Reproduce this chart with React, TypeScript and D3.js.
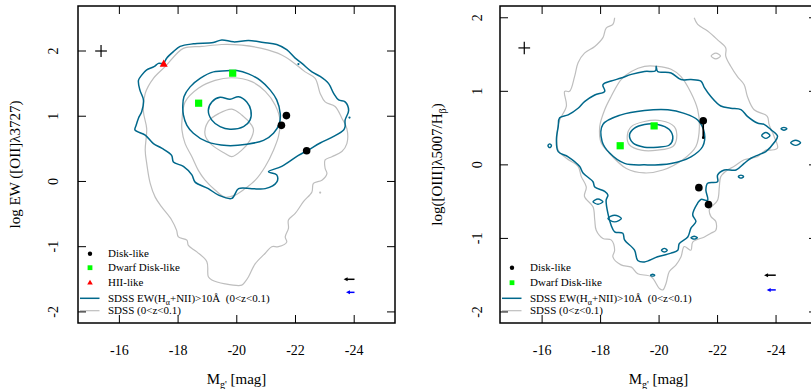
import React from "react";
import * as d3 from "d3";

type P = [number, number];

const xTicks = [-16, -18, -20, -22, -24];
const yTicks = [-2, -1, 0, 1, 2];

// ---------- Left panel data (M_g', log EW[OII]) ----------
const leftDisk: P[] = [[-21.69, 1.01], [-21.52, 0.86], [-22.38, 0.47]];
const leftDwarf: P[] = [[-19.86, 1.66], [-18.70, 1.20]];
const leftHII: P[] = [[-17.51, 1.80]];
const leftErrCross = { x: -15.375, y: 2.0, dx: 0.2, dy: 0.092 };

const leftTealOuter: P[] = [
  [-16.53, 0.79], [-16.57, 0.86], [-16.65, 0.97], [-16.76, 1.07], [-16.82, 1.25], [-16.70, 1.40],
  [-16.65, 1.55], [-16.76, 1.63], [-16.93, 1.71], [-17.18, 1.76], [-17.33, 1.81], [-17.50, 1.81],
  [-17.61, 1.89], [-17.84, 1.99], [-18.07, 2.07], [-18.52, 2.11], [-19.20, 2.13], [-19.49, 2.17],
  [-19.89, 2.14], [-20.40, 2.16], [-20.91, 2.13], [-21.36, 2.10], [-21.70, 2.02], [-21.99, 1.89],
  [-22.22, 1.81], [-22.56, 1.68], [-22.84, 1.61], [-23.13, 1.50], [-23.30, 1.35], [-23.47, 1.25],
  [-23.69, 1.22], [-23.81, 1.09], [-23.69, 0.94], [-23.69, 0.84], [-23.64, 0.79], [-23.30, 0.69],
  [-22.84, 0.59], [-22.39, 0.47], [-22.10, 0.40], [-21.53, 0.23], [-21.08, 0.15], [-21.36, 0.10],
  [-21.36, -0.01], [-20.97, -0.11], [-20.51, -0.11], [-20.06, -0.11], [-19.83, -0.26], [-19.38, -0.21],
  [-19.03, -0.11], [-18.58, -0.01], [-18.47, 0.10], [-18.18, 0.23], [-17.84, 0.30], [-17.78, 0.40],
  [-17.44, 0.51], [-17.16, 0.58], [-16.88, 0.71],
];
const leftTealMid: P[] = [
  [-19.77, 1.70], [-19.20, 1.68], [-18.75, 1.58], [-18.41, 1.45], [-18.20, 1.30], [-18.16, 1.15],
  [-18.18, 1.02], [-18.30, 0.86], [-18.52, 0.74], [-18.98, 0.61], [-19.66, 0.55], [-20.34, 0.57],
  [-20.91, 0.63], [-21.25, 0.74], [-21.45, 0.89], [-21.48, 1.04], [-21.36, 1.25], [-21.14, 1.40],
  [-20.80, 1.55], [-20.40, 1.65], [-20.00, 1.70],
];
const leftTealInner: P[] = [
  [-19.03, 1.09], [-19.15, 1.22], [-19.43, 1.29], [-19.77, 1.26], [-20.06, 1.30], [-20.34, 1.22],
  [-20.48, 1.09], [-20.45, 0.94], [-20.23, 0.84], [-19.77, 0.80], [-19.43, 0.84], [-19.15, 0.94],
];
const leftGrayOuter: P[] = [
  [-17.56, 1.76], [-18.18, 2.04], [-18.81, 2.07], [-19.49, 2.10], [-20.17, 2.09], [-20.85, 2.04],
  [-21.53, 1.94], [-21.88, 1.84], [-22.33, 1.68], [-22.67, 1.58], [-22.84, 1.35], [-23.01, 1.22],
  [-23.35, 1.15], [-23.58, 0.97], [-23.75, 0.81], [-23.75, 0.58], [-23.58, 0.46], [-23.24, 0.38],
  [-23.01, 0.33], [-23.01, 0.20], [-23.07, 0.12], [-22.90, 0.02], [-22.61, -0.03], [-22.56, -0.16],
  [-22.27, -0.31], [-21.99, -0.49], [-21.76, -0.59], [-21.76, -0.72], [-21.65, -0.85], [-21.70, -0.93],
  [-21.42, -1.00], [-21.19, -1.00], [-20.97, -1.10], [-20.63, -1.26], [-20.40, -1.46], [-20.28, -1.54],
  [-20.17, -1.59], [-19.60, -1.57], [-19.15, -1.51], [-19.03, -1.46], [-18.98, -1.23], [-18.64, -1.08],
  [-18.35, -0.98], [-18.30, -0.90], [-18.01, -0.85], [-17.95, -0.75], [-17.78, -0.59], [-17.44, -0.39],
  [-17.22, -0.24], [-17.05, -0.03], [-16.93, 0.28], [-16.88, 0.48], [-16.93, 0.81], [-16.82, 1.07],
  [-16.88, 1.35], [-17.16, 1.58],
];
const leftGrayMid: P[] = [
  [-19.83, 1.59], [-19.26, 1.55], [-18.69, 1.43], [-18.24, 1.22], [-18.13, 0.92], [-18.13, 0.79],
  [-18.24, 0.58], [-18.47, 0.38], [-18.69, 0.17], [-18.92, 0.02], [-19.26, -0.13], [-19.60, -0.24],
  [-19.94, -0.21], [-20.28, -0.11], [-20.63, 0.02], [-20.97, 0.23], [-21.25, 0.48], [-21.42, 0.69],
  [-21.48, 0.92], [-21.31, 1.17], [-20.97, 1.38], [-20.51, 1.53],
];
const leftGrayInner: P[] = [
  [-19.83, 1.11], [-19.38, 1.04], [-19.03, 0.92], [-18.92, 0.71], [-19.15, 0.56], [-19.60, 0.43],
  [-19.83, 0.38], [-20.17, 0.48], [-20.45, 0.63], [-20.57, 0.79], [-20.51, 0.86], [-20.17, 1.02],
];
const leftTealSpecks: P[] = [[-22.10, 1.80], [-23.84, 0.98]];
const leftGraySpecks: P[] = [[-22.84, -0.17]];
const leftArrows = [
  { from: -24.01, to: -23.64, y: -1.5, color: "#000000" },
  { from: -24.01, to: -23.72, y: -1.7, color: "#0000FF" },
];

// ---------- Right panel data (M_g', log [OIII]/Hbeta) ----------
const rightDisk: P[] = [[-21.51, 0.60], [-21.36, -0.31], [-21.69, -0.54]];
const rightDwarf: P[] = [[-19.83, 0.53], [-18.67, 0.26]];
const rightDiskErr = { x: -21.51, y0: 0.60, y1: 0.37 };
const rightErrCross = { x: -15.39, y: 1.59, dx: 0.2, dy: 0.085 };

const rightTealOuter: P[] = [
  [-19.90, 1.34], [-19.95, 1.27], [-20.41, 1.25], [-20.75, 1.16], [-21.09, 1.16], [-21.43, 1.14],
  [-21.55, 1.05], [-21.77, 0.93], [-22.11, 0.80], [-22.45, 0.77], [-22.80, 0.75], [-23.02, 0.66],
  [-23.36, 0.57], [-23.59, 0.55], [-23.82, 0.48], [-24.05, 0.39], [-23.93, 0.30], [-23.65, 0.18],
  [-23.42, 0.14], [-23.14, 0.09], [-22.91, 0.02], [-22.63, -0.07], [-22.23, -0.07], [-22.00, -0.14],
  [-22.00, -0.23], [-21.66, -0.25], [-21.60, -0.34], [-21.66, -0.48], [-21.43, -0.47], [-21.32, -0.52],
  [-21.15, -0.68], [-21.26, -0.77], [-21.09, -0.86], [-20.98, -0.98], [-20.69, -1.07], [-20.64, -1.16],
  [-20.41, -1.20], [-19.95, -1.25], [-19.50, -1.32], [-19.27, -1.30], [-19.16, -1.16], [-18.82, -1.02],
  [-18.76, -0.93], [-18.48, -0.91], [-18.36, -0.82], [-18.25, -0.66], [-18.19, -0.48], [-18.25, -0.41],
  [-18.14, -0.36], [-17.80, -0.30], [-17.74, -0.23], [-17.40, -0.11], [-17.28, -0.02], [-16.89, 0.11],
  [-16.55, 0.18], [-16.49, 0.34], [-16.55, 0.52], [-16.60, 0.64], [-16.89, 0.68], [-17.23, 0.77],
  [-17.45, 0.86], [-17.80, 0.95], [-18.14, 1.00], [-18.08, 1.09], [-18.36, 1.14], [-18.70, 1.18],
  [-19.05, 1.23], [-19.50, 1.27], [-19.88, 1.28],
];
const rightTealMid: P[] = [
  [-18.08, 0.55], [-18.70, 0.68], [-19.50, 0.74], [-20.30, 0.75], [-20.86, 0.70], [-21.32, 0.61],
  [-21.55, 0.43], [-21.49, 0.25], [-21.09, 0.11], [-20.41, 0.02], [-19.50, 0.00], [-18.82, 0.02],
  [-18.31, 0.16], [-18.05, 0.32],
];
const rightTealInner: P[] = [
  [-18.99, 0.41], [-19.16, 0.50], [-19.50, 0.55], [-19.95, 0.55], [-20.35, 0.48], [-20.47, 0.36],
  [-20.35, 0.27], [-19.95, 0.24], [-19.50, 0.24], [-19.10, 0.30],
];
const rightGrayInner: P[] = [
  [-18.91, 0.39], [-19.05, 0.52], [-19.50, 0.59], [-20.07, 0.60], [-20.52, 0.52], [-20.60, 0.36],
  [-20.47, 0.25], [-19.95, 0.20], [-19.39, 0.20], [-18.99, 0.27],
];
const rightGrayMid: P[] = [
  [-19.50, 1.34], [-19.05, 1.27], [-18.70, 1.16], [-18.36, 0.93], [-18.14, 0.75], [-17.97, 0.52],
  [-18.02, 0.30], [-18.25, 0.18], [-18.88, -0.05], [-19.50, -0.11], [-20.13, -0.07], [-20.81, 0.07],
  [-21.26, 0.25], [-21.38, 0.52], [-21.32, 0.75], [-21.09, 0.98], [-20.75, 1.20], [-20.41, 1.30],
  [-19.95, 1.34],
];
const rightGrayOuter: P[] = [
  [-18.48, 2.00], [-18.42, 1.91], [-18.19, 1.86], [-18.08, 1.73], [-17.80, 1.61], [-17.45, 1.52],
  [-17.23, 1.39], [-17.11, 1.20], [-16.94, 1.00], [-16.77, 1.00], [-16.83, 0.80], [-16.60, 0.61],
  [-16.51, 0.43], [-16.55, 0.20], [-16.83, 0.09], [-17.23, -0.02], [-17.34, -0.16], [-17.51, -0.30],
  [-17.45, -0.43], [-17.74, -0.57], [-17.80, -0.75], [-17.85, -0.89], [-18.08, -1.00], [-18.36, -1.02],
  [-18.48, -1.16], [-18.42, -1.25], [-18.70, -1.36], [-19.05, -1.39], [-19.27, -1.48], [-19.73, -1.52],
  [-20.01, -1.68], [-20.13, -1.70], [-20.24, -1.61], [-20.35, -1.45], [-20.58, -1.36], [-20.75, -1.25],
  [-20.86, -1.11], [-21.09, -1.16], [-21.15, -1.05], [-21.55, -0.98], [-21.77, -0.93], [-21.94, -0.89],
  [-21.94, -0.77], [-21.77, -0.70], [-21.72, -0.61], [-22.00, -0.48], [-22.06, -0.30], [-22.11, -0.16],
  [-22.34, -0.07], [-22.57, -0.02], [-22.91, 0.07], [-23.36, 0.11], [-23.65, 0.20], [-23.82, 0.20],
  [-24.05, 0.23], [-23.93, 0.39], [-23.76, 0.55], [-23.70, 0.66], [-23.25, 0.75], [-23.02, 0.93],
  [-22.91, 1.09], [-22.68, 1.20], [-22.45, 1.34], [-22.28, 1.48], [-22.28, 1.59], [-22.00, 1.70],
  [-21.66, 1.82], [-21.32, 1.91], [-21.20, 2.00],
];
// small closed islands: [centre Mg, centre y, half-width (mag), half-height]
const rightTealIslands: [number, number, number, number][] = [
  [-23.65, 0.40, 0.14, 0.04], [-24.67, 0.30, 0.17, 0.035], [-24.27, 0.49, 0.10, 0.02],
  [-16.26, 0.26, 0.06, 0.025], [-18.48, -0.73, 0.23, 0.045], [-17.91, -0.50, 0.17, 0.035],
  [-21.20, -0.99, 0.11, 0.02], [-20.18, -1.16, 0.10, 0.025], [-19.78, -1.50, 0.07, 0.012],
  [-22.80, -0.16, 0.09, 0.02],
];
const rightGrayIslands: [number, number, number, number][] = [[-21.94, 1.48, 0.16, 0.04]];
const rightArrows = [
  { from: -23.99, to: -23.59, y: -1.5, color: "#000000" },
  { from: -23.99, to: -23.68, y: -1.7, color: "#0000FF" },
];

const TEAL = "#00688B";
const GRAY = "#BEBEBE";
const FONT = "'Liberation Serif', 'Times New Roman', serif";
const TOP = 6;
const BOTTOM = 323;

type Contour = { pts: P[]; color: string; closed: boolean; w: number };
type Cfg = {
  id: string;
  left: number;
  right: number;
  xDomain: [number, number];
  yDomain: [number, number];
  contours: Contour[];
  islands: { data: [number, number, number, number][]; color: string; w: number }[];
  specks: { pts: P[]; color: string }[];
  disk: P[];
  dwarf: P[];
  hii: P[];
  cross: { x: number; y: number; dx: number; dy: number };
  err?: { x: number; y0: number; y1: number };
  arrows: { from: number; to: number; y: number; color: string }[];
  yLabelOff: number;
  yTitle: React.ReactNode;
  legendRows: { kind: string; label: React.ReactNode; y: number }[];
};

const tealLabel = (
  <>
    SDSS EW(H<tspan dy={3} fontSize={8}>α</tspan>
    <tspan dy={-3}>{"+NII)>10Å\u00A0\u00A0(0<z<0.1)"}</tspan>
  </>
);
const grayLabel = "SDSS (0<z<0.1)";

function Panel({ c }: { c: Cfg }) {
  const x = d3.scaleLinear().domain(c.xDomain).range([c.left, c.right]);
  const y = d3.scaleLinear().domain(c.yDomain).range([BOTTOM, TOP]);
  const closed = d3.line<P>().x((d) => x(d[0])).y((d) => y(d[1])).curve(d3.curveCatmullRomClosed.alpha(0.5));
  const open = d3.line<P>().x((d) => x(d[0])).y((d) => y(d[1])).curve(d3.curveCatmullRom.alpha(0.5));
  const cx = (c.left + c.right) / 2;
  const cy = (TOP + BOTTOM) / 2;
  const symX = c.left + 12;
  const txtX = c.left + 30;

  return (
    <g>
      <defs>
        <clipPath id={`clip-${c.id}`}>
          <rect x={c.left} y={TOP} width={c.right - c.left} height={BOTTOM - TOP} />
        </clipPath>
      </defs>
      <g clipPath={`url(#clip-${c.id})`}>
        {c.contours.map((k, i) => (
          <path key={i} d={(k.closed ? closed : open)(k.pts) || ""} fill="none" stroke={k.color} strokeWidth={k.w} strokeLinejoin="round" />
        ))}
        {c.islands.map((g, gi) =>
          g.data.map((d, i) => {
            const pts: P[] = [
              [d[0] + d[2], d[1]], [d[0], d[1] + d[3]], [d[0] - d[2], d[1]], [d[0], d[1] - d[3]],
            ];
            return <path key={`${gi}-${i}`} d={closed(pts) || ""} fill="none" stroke={g.color} strokeWidth={g.w} />;
          })
        )}
        {c.specks.map((g, gi) =>
          g.pts.map((d, i) => <circle key={`${gi}-${i}`} cx={x(d[0])} cy={y(d[1])} r={1.1} fill={g.color} />)
        )}
        {c.err && (
          <g>
            <line x1={x(c.err.x)} x2={x(c.err.x)} y1={y(c.err.y0)} y2={y(c.err.y1)} stroke="#000" strokeWidth={1.6} />
            <circle cx={x(c.err.x)} cy={y(c.err.y1)} r={1.3} fill="#000" />
          </g>
        )}
        {c.disk.map((d, i) => <circle key={i} cx={x(d[0])} cy={y(d[1])} r={3.8} fill="#000" />)}
        {c.dwarf.map((d, i) => <rect key={i} x={x(d[0]) - 3.6} y={y(d[1]) - 3.6} width={7.2} height={7.2} fill="#00FF00" />)}
        {c.hii.map((d, i) => {
          const px = x(d[0]);
          const py = y(d[1]);
          return <path key={i} d={`M${px},${py - 4.6}L${px + 4},${py + 2.6}L${px - 4},${py + 2.6}Z`} fill="#FF0000" />;
        })}
        <g stroke="#000" strokeWidth={1.2}>
          <line x1={x(c.cross.x - c.cross.dx)} x2={x(c.cross.x + c.cross.dx)} y1={y(c.cross.y)} y2={y(c.cross.y)} />
          <line x1={x(c.cross.x)} x2={x(c.cross.x)} y1={y(c.cross.y - c.cross.dy)} y2={y(c.cross.y + c.cross.dy)} />
        </g>
        {c.arrows.map((a, i) => {
          const hx = x(a.to);
          const py = y(a.y);
          return (
            <g key={i}>
              <line x1={x(a.from)} x2={hx + 2} y1={py} y2={py} stroke={a.color} strokeWidth={1.5} />
              <path d={`M${hx},${py}L${hx + 4},${py - 2}L${hx + 4},${py + 2}Z`} fill={a.color} />
            </g>
          );
        })}
      </g>

      {/* legend */}
      <g fontFamily={FONT} fontSize={11} fill="#000">
        {c.legendRows.map((r, i) => {
          let sym: React.ReactNode = null;
          if (r.kind === "disk") sym = <circle cx={symX} cy={r.y} r={2.2} fill="#000" />;
          else if (r.kind === "dwarf") sym = <rect x={symX - 2.4} y={r.y - 2.4} width={4.8} height={4.8} fill="#00FF00" />;
          else if (r.kind === "hii")
            sym = <path d={`M${symX},${r.y - 3}L${symX + 2.8},${r.y + 1.8}L${symX - 2.8},${r.y + 1.8}Z`} fill="#FF0000" />;
          else
            sym = (
              <line x1={c.left + 2} x2={c.left + 21.5} y1={r.y} y2={r.y} stroke={r.kind === "teal" ? TEAL : GRAY} strokeWidth={r.kind === "teal" ? 1.5 : 1.2} />
            );
          return (
            <g key={i}>
              {sym}
              <text x={txtX} y={r.y + 3.6}>{r.label}</text>
            </g>
          );
        })}
      </g>

      {/* frame and ticks */}
      <rect x={c.left} y={TOP} width={c.right - c.left} height={BOTTOM - TOP} fill="none" stroke="#000" strokeWidth={1.5} />
      <g stroke="#000" strokeWidth={1}>
        {xTicks.map((t) => (
          <g key={t}>
            <line x1={x(t)} x2={x(t)} y1={BOTTOM} y2={BOTTOM - 8} />
            <line x1={x(t)} x2={x(t)} y1={TOP} y2={TOP + 8} />
          </g>
        ))}
        {yTicks.map((t) => (
          <g key={t}>
            <line x1={c.left} x2={c.left + 8} y1={y(t)} y2={y(t)} />
            <line x1={c.right} x2={c.right - 8} y1={y(t)} y2={y(t)} />
          </g>
        ))}
      </g>
      <g fontFamily={FONT} fontSize={14} fill="#000" textAnchor="middle">
        {xTicks.map((t) => (
          <text key={t} x={x(t)} y={355}>{String(t)}</text>
        ))}
        {yTicks.map((t) => (
          <text key={t} transform={`translate(${c.left - c.yLabelOff},${y(t)}) rotate(-90)`}>{t}</text>
        ))}
      </g>
      <g fontFamily={FONT} fontSize={15} fill="#000" textAnchor="middle">
        <text x={cx} y={384}>
          M<tspan dy={4} fontSize={10}>g'</tspan>
          <tspan dy={-4}> [mag]</tspan>
        </text>
        <text transform={`translate(${c.left - 58},${cy}) rotate(-90)`}>{c.yTitle}</text>
      </g>
    </g>
  );
}

const leftCfg: Cfg = {
  id: "l",
  left: 78,
  right: 395,
  xDomain: [-14.59, -25.39],
  yDomain: [-2.17, 2.69],
  contours: [
    { pts: leftGrayOuter, color: GRAY, closed: true, w: 1.2 },
    { pts: leftGrayMid, color: GRAY, closed: true, w: 1.2 },
    { pts: leftGrayInner, color: GRAY, closed: true, w: 1.2 },
    { pts: leftTealOuter, color: TEAL, closed: true, w: 1.5 },
    { pts: leftTealMid, color: TEAL, closed: true, w: 1.5 },
    { pts: leftTealInner, color: TEAL, closed: true, w: 1.5 },
  ],
  islands: [],
  specks: [
    { pts: leftTealSpecks, color: TEAL },
    { pts: leftGraySpecks, color: GRAY },
  ],
  disk: leftDisk,
  dwarf: leftDwarf,
  hii: leftHII,
  cross: leftErrCross,
  arrows: leftArrows,
  yLabelOff: 20,
  yTitle: "log EW ([OII]λ3727)",
  legendRows: [
    { kind: "disk", label: "Disk-like", y: 253.7 },
    { kind: "dwarf", label: "Dwarf Disk-like", y: 267.7 },
    { kind: "hii", label: "HII-like", y: 282.7 },
    { kind: "teal", label: tealLabel, y: 298.3 },
    { kind: "gray", label: grayLabel, y: 310.7 },
  ],
};

const rightCfg: Cfg = {
  id: "r",
  left: 500,
  right: 817,
  xDomain: [-14.56, -25.4],
  yDomain: [-2.15, 2.16],
  contours: [
    { pts: rightGrayOuter, color: GRAY, closed: false, w: 1.2 },
    { pts: rightGrayMid, color: GRAY, closed: true, w: 1.2 },
    { pts: rightGrayInner, color: GRAY, closed: true, w: 1.2 },
    { pts: rightTealOuter, color: TEAL, closed: true, w: 1.5 },
    { pts: rightTealMid, color: TEAL, closed: true, w: 1.5 },
    { pts: rightTealInner, color: TEAL, closed: true, w: 1.5 },
  ],
  islands: [
    { data: rightGrayIslands, color: GRAY, w: 1.2 },
    { data: rightTealIslands, color: TEAL, w: 1.4 },
  ],
  specks: [],
  disk: rightDisk,
  dwarf: rightDwarf,
  hii: [],
  cross: rightErrCross,
  err: rightDiskErr,
  arrows: rightArrows,
  yLabelOff: 18,
  yTitle: (
    <>
      log([OIII]λ5007/H<tspan dy={4} fontSize={10}>β</tspan>
      <tspan dy={-4}>)</tspan>
    </>
  ),
  legendRows: [
    { kind: "disk", label: "Disk-like", y: 267.7 },
    { kind: "dwarf", label: "Dwarf Disk-like", y: 282.7 },
    { kind: "teal", label: tealLabel, y: 298.3 },
    { kind: "gray", label: grayLabel, y: 310.7 },
  ],
};

export default function App() {
  return (
    <svg width={811} height={389} style={{ position: "absolute", left: 0, top: 0, background: "#fff" }}>
      <rect width={811} height={389} fill="#fff" />
      <Panel c={leftCfg} />
      <Panel c={rightCfg} />
    </svg>
  );
}
